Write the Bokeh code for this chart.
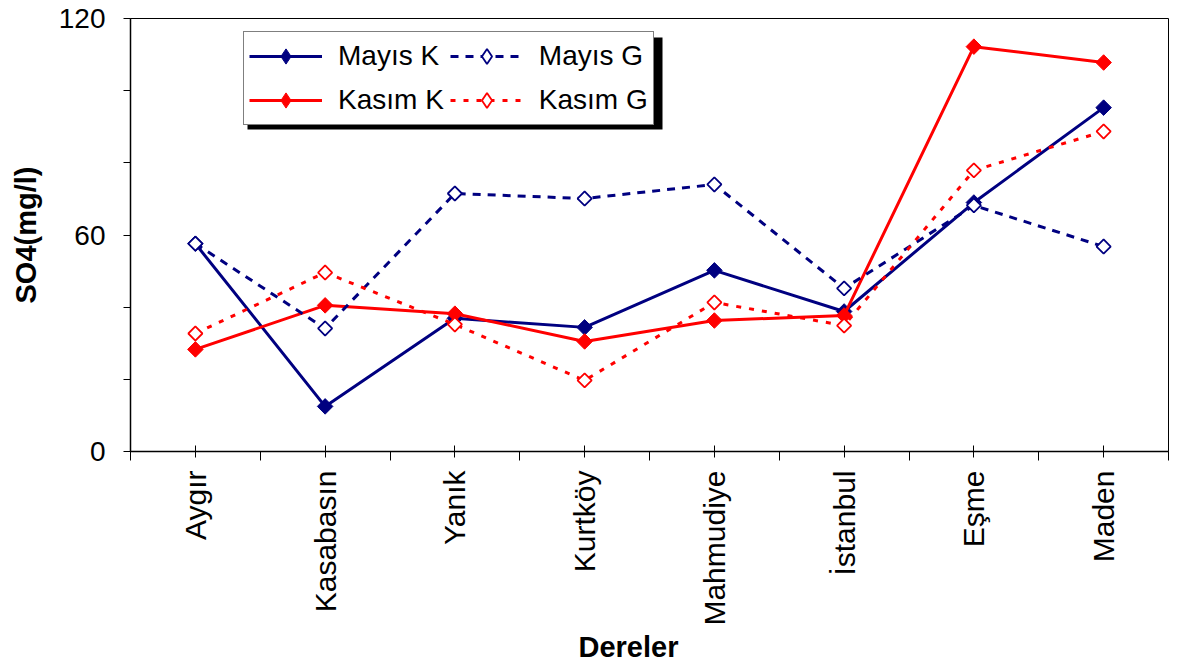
from bokeh.plotting import figure
from bokeh.models import (FixedTicker, Legend, LegendItem, Range1d, Title,
                          BoxAnnotation, ColumnDataSource)
from bokeh.embed import file_html
from bokeh.resources import INLINE

# Sulfate concentrations per stream (mg/l)
stations = ["Aygır", "Kasabasın", "Yanık", "Kurtköy", "Mahmudiye", "İstanbul", "Eşme", "Maden"]
mayis_k = [57.6, 12.5, 36.9, 34.4, 50.2, 38.8, 69.0, 95.3]
mayis_g = [57.6, 34.1, 71.5, 70.1, 74.0, 45.2, 68.2, 56.8]
kasim_k = [28.3, 40.5, 38.2, 30.5, 36.3, 37.7, 112.2, 107.8]
kasim_g = [32.7, 49.6, 35.2, 19.7, 41.3, 34.9, 77.9, 88.7]
y_ticks = [0, 20, 40, 60, 80, 100, 120]
y_labelled = [0, 60, 120]

FONT = "Liberation Sans"
NAVY = "#000080"
RED = "#FF0000"

idx = list(range(len(stations)))
src = ColumnDataSource(dict(x=idx, mk=mayis_k, mg=mayis_g, kk=kasim_k, kg=kasim_g))
# one undrawable row, used only for the legend swatches
swatch = ColumnDataSource(dict(x=[float("nan")], y=[float("nan")]))

p = figure(width=1182, height=662, output_backend="svg", toolbar_location=None,
           x_range=Range1d(-0.5, len(stations) - 0.5), y_range=Range1d(0, 120),
           min_border_left=130, min_border_right=14, min_border_top=18,
           min_border_bottom=211)
p.background_fill_color = "white"
p.border_fill_color = "white"
p.outline_line_color = "black"
p.outline_line_width = 1
p.xgrid.visible = False
p.ygrid.visible = False

# x axis: category ticks crossing the axis, boundary ticks below it
xa = p.xaxis[0]
xa.ticker = FixedTicker(ticks=idx, minor_ticks=[i - 0.5 for i in range(len(stations) + 1)])
xa.major_label_overrides = {i: s for i, s in enumerate(stations)}
xa.major_label_orientation = 1.5707963268
xa.major_label_text_font = FONT
xa.major_label_text_font_size = "30px"
xa.major_label_text_color = "black"
xa.major_label_standoff = 10
xa.major_tick_in = 6
xa.major_tick_out = 6
xa.minor_tick_in = 0
xa.minor_tick_out = 9
xa.axis_line_color = "black"
xa.axis_line_width = 1.5
xa.major_tick_line_color = "black"
xa.minor_tick_line_color = "black"

ya = p.yaxis[0]
ya.ticker = FixedTicker(ticks=y_ticks, minor_ticks=[])
ya.major_label_overrides = {t: (str(t) if t in y_labelled else "") for t in y_ticks}
ya.major_label_text_font = FONT
ya.major_label_text_font_size = "28px"
ya.major_label_text_color = "black"
ya.major_label_standoff = 18
ya.major_tick_in = 0
ya.major_tick_out = 7
ya.axis_line_color = "black"
ya.axis_line_width = 1.5
ya.major_tick_line_color = "black"
ya.axis_label = "SO4(mg/l)"
ya.axis_label_text_font = FONT
ya.axis_label_text_font_size = "29px"
ya.axis_label_text_font_style = "bold"
ya.axis_label_text_color = "black"
ya.axis_label_standoff = 14

DIAMOND = 0.7853981634  # squares turned by 45 degrees

series = [
    ("Mayıs K", "mk", NAVY, None, True),
    ("Kasım K", "kk", RED, None, True),
    ("Mayıs G", "mg", NAVY, "8 7", False),
    ("Kasım G", "kg", RED, "5 8", False),
]

items = []
for label, col, color, dash, filled in series:
    line_kw = dict(line_color=color, line_width=3)
    if dash:
        line_kw["line_dash"] = dash
    mark_kw = dict(fill_color=color if filled else "white", line_color=color,
                   line_width=1 if filled else 1.8)
    p.line("x", col, source=src, **line_kw)
    p.scatter("x", col, source=src, marker="square", angle=DIAMOND,
              size=11 if filled else 10, **mark_kw)
    lg_line = p.line("x", "y", source=swatch, **line_kw)
    lg_mark = p.scatter("x", "y", source=swatch, marker="diamond", **mark_kw)
    items.append(LegendItem(label=label, renderers=[lg_line, lg_mark]))

# drop shadow behind the legend box
shadow = BoxAnnotation(left=117, right=532, bottom=322, top=414,
                       left_units="screen", right_units="screen",
                       bottom_units="screen", top_units="screen",
                       fill_color="black", fill_alpha=1, line_color=None)
p.add_layout(shadow)

legend = Legend(items=items, location=(113, 326), ncols=2)
legend.label_text_font = FONT
legend.label_text_font_size = "28px"
legend.label_text_color = "black"
legend.label_height = 38
legend.glyph_height = 38
legend.glyph_width = 73
legend.label_standoff = 16
legend.spacing = 6
legend.padding = 5
legend.margin = 0
legend.border_line_color = "black"
legend.border_line_width = 1.5
legend.background_fill_color = "white"
legend.background_fill_alpha = 1
p.add_layout(legend, "center")

p.add_layout(Title(text="Dereler", align="left", offset=448,
                   text_font=FONT, text_font_size="29px", text_font_style="bold",
                   text_color="black", standoff=0), "below")

open("out.html", "w").write(file_html(p, INLINE))
